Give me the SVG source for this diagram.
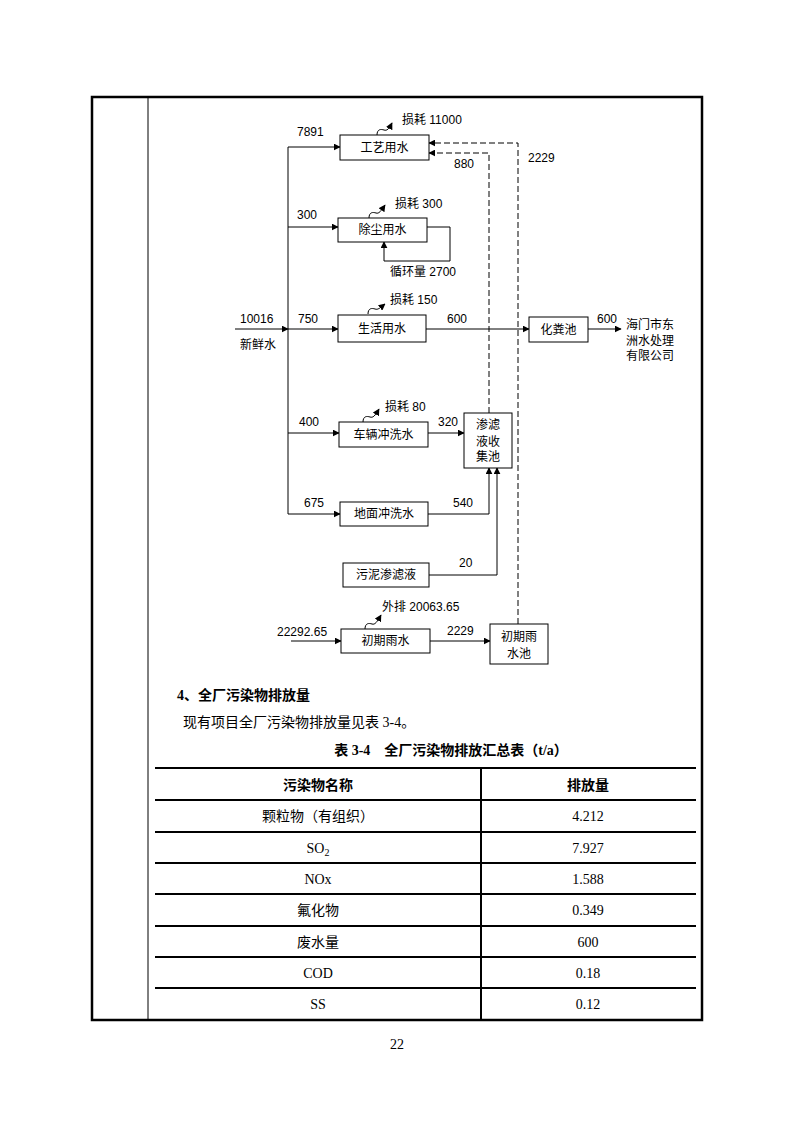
<svg xmlns="http://www.w3.org/2000/svg" width="794" height="1123" viewBox="0 0 794 1123">
<defs>
<marker id="ah" viewBox="0 0 10 10" refX="9" refY="5" markerWidth="7" markerHeight="7" markerUnits="userSpaceOnUse" orient="auto">
<path d="M0,0 L10,5 L0,10 z" fill="#000"/>
</marker>
</defs>
<style>
.bx{fill:#fff;stroke:#000;stroke-width:1}
.ln{fill:none;stroke:#000;stroke-width:1}
.ar{fill:none;stroke:#000;stroke-width:1;marker-end:url(#ah)}
.ds{fill:none;stroke:#000;stroke-width:1;stroke-dasharray:6,3;marker-end:url(#ah)}
.t{font-family:"Liberation Sans","Noto Sans CJK SC",sans-serif;font-size:12px;fill:#000}
.c{text-anchor:middle}
.tb{font-family:"Liberation Serif","Noto Sans CJK SC",serif;font-size:14px;fill:#000}
.tbb{font-family:"Liberation Serif","Noto Sans CJK SC",serif;font-size:14px;font-weight:bold;fill:#000}
.frm{fill:none;stroke:#000;stroke-width:2.5}
.tl{stroke:#000;stroke-width:2}
</style>
<rect x="0" y="0" width="794" height="1123" fill="#fff"/>
<rect class="frm" x="92" y="97" width="610" height="923"/>
<line x1="148" y1="97" x2="148" y2="1020" stroke="#000" stroke-width="1"/>

<g id="connectors">
<line class="ln" x1="288" y1="147" x2="288" y2="514"/>
<line class="ar" x1="235" y1="329" x2="288" y2="329"/>
<line class="ar" x1="288" y1="147" x2="340" y2="147"/>
<line class="ar" x1="288" y1="227" x2="338" y2="227"/>
<line class="ar" x1="288" y1="329" x2="338" y2="329"/>
<line class="ar" x1="288" y1="433" x2="339" y2="433"/>
<line class="ar" x1="288" y1="514" x2="340" y2="514"/>
<polyline class="ar" points="427,227 450,227 450,261 384,261 384,242"/>
<line class="ar" x1="426" y1="329" x2="529" y2="329"/>
<line class="ar" x1="588" y1="329" x2="621" y2="329"/>
<line class="ar" x1="428" y1="433" x2="464" y2="433"/>
<polyline class="ar" points="428,514 489,514 489,468"/>
<polyline class="ar" points="429,575 497,575 497,468"/>
<line class="ar" x1="291" y1="641" x2="341" y2="641"/>
<line class="ar" x1="430" y1="641" x2="490" y2="641"/>
<polyline class="ds" points="518,624 518,143 429,143"/>
<polyline class="ds" points="489,413 489,153 429,153"/>
<path class="ar" d="M377,135 C377,129 381,129 384,130 C387,131 389,129 392,123"/>
<path class="ar" d="M369,218 C369,212 373,212 376,213 C379,214 381,211 385,205"/>
<path class="ar" d="M368,314 C368,308 372,308 375,309 C378,310 380,308 385,304"/>
<path class="ar" d="M363,422 C363,416 367,416 370,417 C373,418 375,416 379,409"/>
<path class="ar" d="M365,629 C365,623 369,623 372,624 C375,625 377,622 381,615"/>
</g>

<g id="n_gongyi"><rect class="bx" x="340" y="135" width="89" height="25"/><text class="t c" x="384.5" y="152">工艺用水</text></g>
<g id="n_chuchen"><rect class="bx" x="338" y="218" width="89" height="24"/><text class="t c" x="382.5" y="234">除尘用水</text></g>
<g id="n_shenghuo"><rect class="bx" x="338" y="315" width="88" height="27"/><text class="t c" x="382" y="333">生活用水</text></g>
<g id="n_cheliang"><rect class="bx" x="339" y="422" width="89" height="25"/><text class="t c" x="383.5" y="439">车辆冲洗水</text></g>
<g id="n_dimian"><rect class="bx" x="340" y="502" width="88" height="24"/><text class="t c" x="384" y="518">地面冲洗水</text></g>
<g id="n_wuni"><rect class="bx" x="343" y="563" width="86" height="24"/><text class="t c" x="386" y="579">污泥渗滤液</text></g>
<g id="n_shenlv"><rect class="bx" x="464" y="413" width="48" height="55"/><text class="t c" x="488" y="428.5">渗滤</text><text class="t c" x="488" y="446">液收</text><text class="t c" x="488" y="460.5">集池</text></g>
<g id="n_huafen"><rect class="bx" x="529" y="317" width="59" height="25"/><text class="t c" x="558.5" y="334">化粪池</text></g>
<g id="n_chuqi"><rect class="bx" x="341" y="629" width="89" height="24"/><text class="t c" x="385.5" y="645">初期雨水</text></g>
<g id="n_chuqichi"><rect class="bx" x="490" y="624" width="58" height="40"/><text class="t c" x="519" y="641">初期雨</text><text class="t c" x="519" y="657.5">水池</text></g>
<g id="n_out"><text class="t" x="626" y="329">海门市东</text><text class="t" x="626" y="345">洲水处理</text><text class="t" x="626" y="360">有限公司</text></g>

<g id="labels">
<text class="t" x="297" y="136">7891</text>
<text class="t" x="402" y="124">损耗 11000</text>
<text class="t" x="454" y="168">880</text>
<text class="t" x="528" y="162">2229</text>
<text class="t" x="297" y="219">300</text>
<text class="t" x="395" y="208">损耗 300</text>
<text class="t" x="390" y="276">循环量 2700</text>
<text class="t" x="390" y="304">损耗 150</text>
<text class="t" x="240" y="323">10016</text>
<text class="t" x="240" y="349">新鲜水</text>
<text class="t" x="298" y="323">750</text>
<text class="t" x="447" y="323">600</text>
<text class="t" x="597" y="323">600</text>
<text class="t" x="385" y="411">损耗 80</text>
<text class="t" x="299" y="426">400</text>
<text class="t" x="438" y="426">320</text>
<text class="t" x="304" y="507">675</text>
<text class="t" x="453" y="507">540</text>
<text class="t" x="459" y="567">20</text>
<text class="t" x="382" y="611">外排 20063.65</text>
<text class="t" x="277" y="636">22292.65</text>
<text class="t" x="447" y="635">2229</text>
</g>

<g id="doc">
<text class="tbb" x="177" y="700">4、全厂污染物排放量</text>
<text class="tb" x="183" y="727">现有项目全厂污染物排放量见表 3-4。</text>
<text class="tbb" x="451" y="755" text-anchor="middle">表 3-4　全厂污染物排放汇总表（t/a）</text>
</g>

<g id="table">
<line class="tl" x1="155" y1="768" x2="696" y2="768" stroke-width="3"/>
<line class="tl" x1="155" y1="800" x2="696" y2="800"/>
<line class="tl" x1="155" y1="832" x2="696" y2="832"/>
<line class="tl" x1="155" y1="863" x2="696" y2="863"/>
<line class="tl" x1="155" y1="894" x2="696" y2="894"/>
<line class="tl" x1="155" y1="926" x2="696" y2="926"/>
<line class="tl" x1="155" y1="957" x2="696" y2="957"/>
<line class="tl" x1="155" y1="988" x2="696" y2="988"/>
<line class="tl" x1="481" y1="768" x2="481" y2="1020"/>
<text class="tbb" x="318" y="790" text-anchor="middle">污染物名称</text>
<text class="tbb" x="588" y="790" text-anchor="middle">排放量</text>
<text class="tb" x="318" y="821" text-anchor="middle">颗粒物（有组织）</text>
<text class="tb" x="588" y="821" text-anchor="middle">4.212</text>
<text class="tb" x="318" y="853" text-anchor="middle">SO<tspan font-size="10" dy="3">2</tspan></text>
<text class="tb" x="588" y="853" text-anchor="middle">7.927</text>
<text class="tb" x="318" y="884" text-anchor="middle">NOx</text>
<text class="tb" x="588" y="884" text-anchor="middle">1.588</text>
<text class="tb" x="318" y="915" text-anchor="middle">氟化物</text>
<text class="tb" x="588" y="915" text-anchor="middle">0.349</text>
<text class="tb" x="318" y="947" text-anchor="middle">废水量</text>
<text class="tb" x="588" y="947" text-anchor="middle">600</text>
<text class="tb" x="318" y="978" text-anchor="middle">COD</text>
<text class="tb" x="588" y="978" text-anchor="middle">0.18</text>
<text class="tb" x="318" y="1009" text-anchor="middle">SS</text>
<text class="tb" x="588" y="1009" text-anchor="middle">0.12</text>
</g>
<text class="tb" x="397" y="1049" text-anchor="middle" font-size="12">22</text>
</svg>
